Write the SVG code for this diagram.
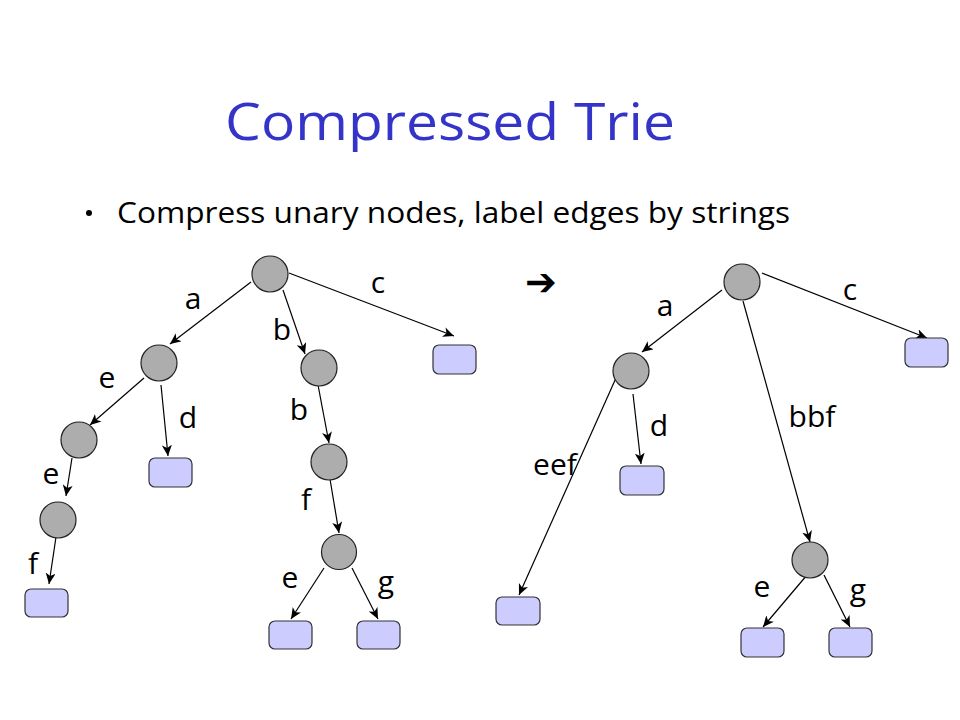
<svg xmlns="http://www.w3.org/2000/svg" width="960" height="720" viewBox="0 0 960 720">
<defs>
<style>
.title{font-family:"Open Sans","DejaVu Sans",sans-serif;font-size:52px;fill:#3434C8}
.sub{font-family:"Open Sans","DejaVu Sans",sans-serif;font-size:30px;fill:#000}
.lbl{font-family:"Open Sans","DejaVu Sans",sans-serif;font-size:30px;fill:#000;text-anchor:middle}
.inner{fill:#ADADAD;stroke:#222;stroke-width:1.2}
.leaf{fill:#CCCCFF;stroke:#333;stroke-width:1.2}
.edge{stroke:#000;stroke-width:1.2;fill:none;marker-end:url(#ah)}
</style>
<marker id="ah" markerUnits="userSpaceOnUse" markerWidth="12" markerHeight="10" refX="11" refY="5" orient="auto">
<path d="M0,0 L11,5 L0,10 L3,5 z" fill="#000"/>
</marker>
</defs>
<rect width="960" height="720" fill="#fff"/>
<text class="title" x="225" y="140" textLength="450" lengthAdjust="spacingAndGlyphs">Compressed Trie</text>
<circle cx="89" cy="213" r="3" fill="#000"/>
<text class="sub" x="117" y="223" textLength="673" lengthAdjust="spacingAndGlyphs">Compress unary nodes, label edges by strings</text>
<text x="541" y="295" font-family="DejaVu Sans,sans-serif" font-size="38" font-weight="bold" text-anchor="middle" fill="#000">➔</text>

<g id="connectors">
<line class="edge" x1="251" y1="282" x2="170" y2="344"/>
<line class="edge" x1="283" y1="290" x2="305" y2="354"/>
<line class="edge" x1="289" y1="273" x2="454" y2="336"/>
<line class="edge" x1="144" y1="378" x2="90" y2="425"/>
<line class="edge" x1="161" y1="385" x2="168" y2="456"/>
<line class="edge" x1="72" y1="458" x2="66" y2="496"/>
<line class="edge" x1="56" y1="537" x2="49" y2="584"/>
<line class="edge" x1="318" y1="385" x2="329" y2="443"/>
<line class="edge" x1="330" y1="479" x2="339" y2="533"/>
<line class="edge" x1="324" y1="568" x2="291" y2="619"/>
<line class="edge" x1="352" y1="568" x2="378" y2="619"/>

<line class="edge" x1="722" y1="290" x2="642" y2="352"/>
<line class="edge" x1="762" y1="273" x2="927" y2="338"/>
<line class="edge" x1="743" y1="301" x2="810" y2="542"/>
<line class="edge" x1="616" y1="378" x2="519" y2="595"/>
<line class="edge" x1="633" y1="394" x2="641" y2="464"/>
<line class="edge" x1="807" y1="575" x2="763" y2="627"/>
<line class="edge" x1="824" y1="575" x2="850" y2="627"/>
</g>

<g id="left-root"><circle class="inner" cx="270" cy="274" r="18"/></g>
<g id="left-a"><circle class="inner" cx="159" cy="363" r="18"/></g>
<g id="left-b"><circle class="inner" cx="319" cy="368" r="18"/></g>
<g id="left-ae"><circle class="inner" cx="79" cy="440" r="18"/></g>
<g id="left-aee"><circle class="inner" cx="58" cy="520" r="18"/></g>
<g id="left-bb"><circle class="inner" cx="329" cy="462" r="18"/></g>
<g id="left-bbf"><circle class="inner" cx="339" cy="552" r="17.5"/></g>
<g id="left-leaf-c"><rect class="leaf" x="433" y="345" width="43" height="29" rx="6"/></g>
<g id="left-leaf-d"><rect class="leaf" x="149" y="458" width="43" height="29" rx="6"/></g>
<g id="left-leaf-f"><rect class="leaf" x="25" y="589" width="43" height="28" rx="6"/></g>
<g id="left-leaf-e"><rect class="leaf" x="269" y="621" width="43" height="28" rx="6"/></g>
<g id="left-leaf-g"><rect class="leaf" x="357" y="621" width="43" height="28" rx="6"/></g>

<g id="right-root"><circle class="inner" cx="742" cy="282" r="18"/></g>
<g id="right-a"><circle class="inner" cx="631" cy="371" r="18"/></g>
<g id="right-bbf"><circle class="inner" cx="810" cy="560" r="18"/></g>
<g id="right-leaf-c"><rect class="leaf" x="905" y="338" width="43" height="29" rx="6"/></g>
<g id="right-leaf-d"><rect class="leaf" x="620" y="466" width="44" height="29" rx="6"/></g>
<g id="right-leaf-eef"><rect class="leaf" x="496" y="597" width="44" height="28" rx="6"/></g>
<g id="right-leaf-e"><rect class="leaf" x="741" y="628" width="43" height="29" rx="6"/></g>
<g id="right-leaf-g"><rect class="leaf" x="829" y="628" width="43" height="29" rx="6"/></g>

<g id="labels">
<text class="lbl" x="193" y="309">a</text>
<text class="lbl" x="378" y="293">c</text>
<text class="lbl" x="282" y="340">b</text>
<text class="lbl" x="107" y="388">e</text>
<text class="lbl" x="188" y="428">d</text>
<text class="lbl" x="299" y="420">b</text>
<text class="lbl" x="51" y="484">e</text>
<text class="lbl" x="306" y="510">f</text>
<text class="lbl" x="33" y="574">f</text>
<text class="lbl" x="290" y="588">e</text>
<text class="lbl" x="386" y="592">g</text>

<text class="lbl" x="665" y="316">a</text>
<text class="lbl" x="850" y="300">c</text>
<text class="lbl" x="812" y="427">bbf</text>
<text class="lbl" x="659" y="436">d</text>
<text class="lbl" x="555" y="475">eef</text>
<text class="lbl" x="762" y="597">e</text>
<text class="lbl" x="858" y="600">g</text>
</g>
</svg>
